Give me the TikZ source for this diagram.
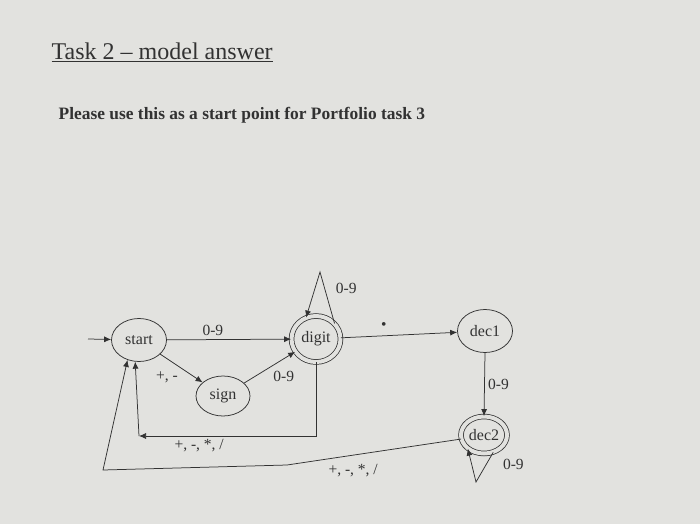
\documentclass[tikz,border=0pt]{standalone}
\usepackage{fontspec}
\setmainfont{Liberation Serif}
\usetikzlibrary{shapes.geometric,arrows.meta}
\definecolor{paper}{RGB}{226,226,223}
\definecolor{ink}{RGB}{50,50,50}
\begin{document}
\begin{tikzpicture}[x=1pt,y=-1pt,line width=0.75pt,color=ink,>={Latex[length=7pt,width=6pt]},
        state node/.style={ellipse,draw,inner sep=0pt,minimum width=55pt,minimum height=43pt,font=\fontsize{16}{19}\selectfont},
        final node/.style={state node,double=paper,double distance=4pt,minimum width=49pt,minimum height=46pt},
        edge label/.style={font=\fontsize{15.5}{18}\selectfont}]
    \fill[paper] (0,0) rectangle (700,524);
    \useasboundingbox (0,0) rectangle (700,524);
    \node[anchor=base west,font=\fontsize{24}{28}\selectfont] (title) at (48,60) {\underline{Task 2 -- model answer}};
    \node[anchor=base west,font=\fontsize{17.4}{20}\selectfont\bfseries] (note) at (55,119) {Please use this as a start point for Portfolio task 3};
    \node[state node] (start node) at (139,340) {start};
    \node[state node,minimum width=54pt,minimum height=40pt] (sign node) at (223,396) {sign};
    \node[final node] (digit node) at (316,339) {digit};
    \node[state node] (dec1 node) at (485,331) {dec1};
    \node[final node,minimum width=46pt,minimum height=37pt] (dec2 node) at (484,435) {dec2};
    \coordinate (entry) at (88,339);
    \coordinate (digit top) at (320,272);
    \coordinate (dec2 bottom) at (476,482);
    \coordinate (back corner) at (139,436);
    \coordinate (back bend) at (287,465);
    \coordinate (back foot) at (103,470);
    \draw[->] (entry) -- (start node);
    \draw[->] (start node) -- node[above,pos=0.37,edge label] {0-9} (digit node);
    \draw[->] (start node) -- node[below left,edge label] {+, -} (sign node);
    \draw[->] (sign node) -- node[below right,edge label] {0-9} (digit node);
    \draw[->] (digit node.40) -- node[above right,pos=0.5,xshift=5pt,edge label] {0-9} (digit top) -- (digit node.115);
    \draw[->] (digit node) -- node[above=3pt,pos=0.37,edge label] {\textbullet} (dec1 node);
    \draw[->] (dec1 node.south) -- node[right,edge label] {0-9} (dec2 node.north);
    \draw[->] (dec2 node.-62) -- node[right=13pt,pos=0.4,edge label] {0-9} (dec2 bottom) -- (dec2 node.-140);
    \draw[->] (digit node.south) |- node[below,pos=0.83,edge label] {+, -, *, /} (back corner);
    \draw[->] (back corner) -- (start node.-100);
    \draw[->] (dec2 node.190) -- node[below=5pt,pos=0.62,edge label] {+, -, *, /} (back bend) -- (back foot) -- (start node.-120);
\end{tikzpicture}
\end{document}
